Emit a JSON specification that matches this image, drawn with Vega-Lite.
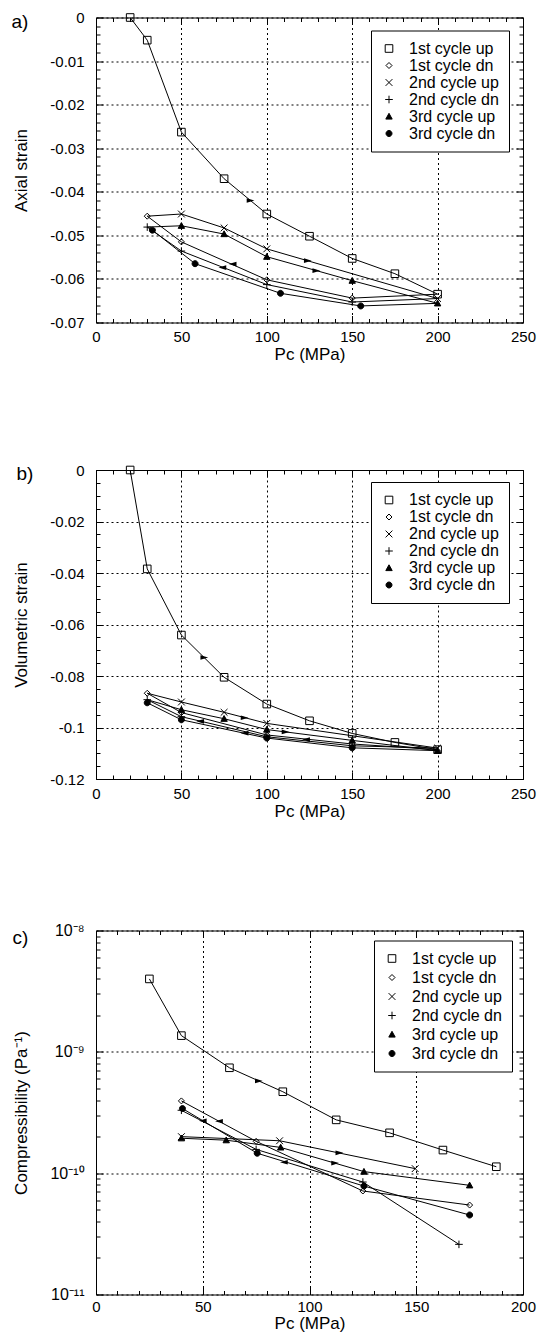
{
  "$schema": "https://vega.github.io/schema/vega-lite/v6.json",
  "padding": {"left": 10, "top": 9.5, "right": 0, "bottom": 0},
  "background": "white",
  "config": {
    "font": "Liberation Sans",
    "view": {"stroke": "black", "strokeWidth": 1},
    "axis": {"labelFont": "Liberation Sans", "titleFont": "Liberation Sans", "labelColor": "black", "titleColor": "black"},
    "legend": {"labelFont": "Liberation Sans", "labelColor": "black", "strokeColor": "black", "fillColor": "white", "padding": 10, "labelFontSize": 16, "labelOffset": 12, "symbolSize": 64, "symbolStrokeColor": "black", "symbolStrokeWidth": 1, "symbolOpacity": 1, "labelLimit": 300, "direction": "vertical"}
  },
  "resolve": {"scale": {"shape": "independent", "fill": "independent"}, "legend": {"shape": "independent", "fill": "independent"}},
  "datasets": {
    "a": [
      {"i": 1, "p": 20, "v": 0, "s": "1st cycle up"},
      {"i": 2, "p": 30, "v": -0.0052, "s": "1st cycle up"},
      {"i": 3, "p": 50, "v": -0.0263, "s": "1st cycle up"},
      {"i": 4, "p": 75, "v": -0.037, "s": "1st cycle up"},
      {"i": 5, "p": 100, "v": -0.0451, "s": "1st cycle up"},
      {"i": 6, "p": 125, "v": -0.0502, "s": "1st cycle up"},
      {"i": 7, "p": 150, "v": -0.0553, "s": "1st cycle up"},
      {"i": 8, "p": 175, "v": -0.0588, "s": "1st cycle up"},
      {"i": 9, "p": 200, "v": -0.0635, "s": "1st cycle up"},
      {"i": 10, "p": 150, "v": -0.0644, "s": "1st cycle dn"},
      {"i": 11, "p": 100, "v": -0.0602, "s": "1st cycle dn"},
      {"i": 12, "p": 50, "v": -0.0515, "s": "1st cycle dn"},
      {"i": 13, "p": 30, "v": -0.0456, "s": "1st cycle dn"},
      {"i": 14, "p": 50, "v": -0.0451, "s": "2nd cycle up"},
      {"i": 15, "p": 75, "v": -0.0483, "s": "2nd cycle up"},
      {"i": 16, "p": 100, "v": -0.0531, "s": "2nd cycle up"},
      {"i": 17, "p": 200, "v": -0.0645, "s": "2nd cycle up"},
      {"i": 18, "p": 150, "v": -0.0653, "s": "2nd cycle dn"},
      {"i": 19, "p": 100, "v": -0.0613, "s": "2nd cycle dn"},
      {"i": 20, "p": 50, "v": -0.0536, "s": "2nd cycle dn"},
      {"i": 21, "p": 30, "v": -0.0481, "s": "2nd cycle dn"},
      {"i": 22, "p": 50, "v": -0.0478, "s": "3rd cycle up"},
      {"i": 23, "p": 75, "v": -0.0497, "s": "3rd cycle up"},
      {"i": 24, "p": 100, "v": -0.0549, "s": "3rd cycle up"},
      {"i": 25, "p": 150, "v": -0.0604, "s": "3rd cycle up"},
      {"i": 26, "p": 200, "v": -0.0656, "s": "3rd cycle up"},
      {"i": 27, "p": 155, "v": -0.0662, "s": "3rd cycle dn"},
      {"i": 28, "p": 108, "v": -0.0633, "s": "3rd cycle dn"},
      {"i": 29, "p": 58, "v": -0.0565, "s": "3rd cycle dn"},
      {"i": 30, "p": 33, "v": -0.0488, "s": "3rd cycle dn"}
    ],
    "a_arr": [
      {"p": 90.5, "v": -0.042, "d": "up"},
      {"p": 124, "v": -0.0558, "d": "up"},
      {"p": 129, "v": -0.0581, "d": "up"},
      {"p": 80, "v": -0.0566, "d": "dn"},
      {"p": 74, "v": -0.0574, "d": "dn"}
    ],
    "b": [
      {"i": 1, "p": 20, "v": 0, "s": "1st cycle up"},
      {"i": 2, "p": 30, "v": -0.0384, "s": "1st cycle up"},
      {"i": 3, "p": 50, "v": -0.0641, "s": "1st cycle up"},
      {"i": 4, "p": 75, "v": -0.0805, "s": "1st cycle up"},
      {"i": 5, "p": 100, "v": -0.0909, "s": "1st cycle up"},
      {"i": 6, "p": 125, "v": -0.0974, "s": "1st cycle up"},
      {"i": 7, "p": 150, "v": -0.1023, "s": "1st cycle up"},
      {"i": 8, "p": 175, "v": -0.1058, "s": "1st cycle up"},
      {"i": 9, "p": 200, "v": -0.1086, "s": "1st cycle up"},
      {"i": 10, "p": 150, "v": -0.1064, "s": "1st cycle dn"},
      {"i": 11, "p": 100, "v": -0.1029, "s": "1st cycle dn"},
      {"i": 12, "p": 50, "v": -0.0942, "s": "1st cycle dn"},
      {"i": 13, "p": 30, "v": -0.0867, "s": "1st cycle dn"},
      {"i": 14, "p": 50, "v": -0.0901, "s": "2nd cycle up"},
      {"i": 15, "p": 75, "v": -0.0941, "s": "2nd cycle up"},
      {"i": 16, "p": 100, "v": -0.0984, "s": "2nd cycle up"},
      {"i": 17, "p": 200, "v": -0.108, "s": "2nd cycle up"},
      {"i": 18, "p": 150, "v": -0.1071, "s": "2nd cycle dn"},
      {"i": 19, "p": 100, "v": -0.1036, "s": "2nd cycle dn"},
      {"i": 20, "p": 50, "v": -0.0958, "s": "2nd cycle dn"},
      {"i": 21, "p": 30, "v": -0.0892, "s": "2nd cycle dn"},
      {"i": 22, "p": 50, "v": -0.0931, "s": "3rd cycle up"},
      {"i": 23, "p": 75, "v": -0.0966, "s": "3rd cycle up"},
      {"i": 24, "p": 100, "v": -0.1008, "s": "3rd cycle up"},
      {"i": 25, "p": 150, "v": -0.105, "s": "3rd cycle up"},
      {"i": 26, "p": 200, "v": -0.109, "s": "3rd cycle up"},
      {"i": 27, "p": 150, "v": -0.1079, "s": "3rd cycle dn"},
      {"i": 28, "p": 100, "v": -0.1041, "s": "3rd cycle dn"},
      {"i": 29, "p": 50, "v": -0.097, "s": "3rd cycle dn"},
      {"i": 30, "p": 30, "v": -0.0904, "s": "3rd cycle dn"}
    ],
    "b_arr": [
      {"p": 63.4, "v": -0.0728, "d": "up"},
      {"p": 87, "v": -0.0962, "d": "up"},
      {"p": 111, "v": -0.1017, "d": "up"},
      {"p": 61, "v": -0.0976, "d": "dn"},
      {"p": 87, "v": -0.1022, "d": "dn"},
      {"p": 123, "v": -0.1047, "d": "dn"}
    ],
    "c": [
      {"p": 25, "v": 3.99e-9, "s": "1st cycle up"},
      {"p": 40, "v": 1.36e-9, "s": "1st cycle up"},
      {"p": 62.5, "v": 7.39e-10, "s": "1st cycle up"},
      {"p": 87.5, "v": 4.69e-10, "s": "1st cycle up"},
      {"p": 112.5, "v": 2.75e-10, "s": "1st cycle up"},
      {"p": 137.5, "v": 2.15e-10, "s": "1st cycle up"},
      {"p": 162.5, "v": 1.55e-10, "s": "1st cycle up"},
      {"p": 187.5, "v": 1.13e-10, "s": "1st cycle up"},
      {"p": 175, "v": 5.46e-11, "s": "1st cycle dn"},
      {"p": 125, "v": 7.13e-11, "s": "1st cycle dn"},
      {"p": 75, "v": 1.83e-10, "s": "1st cycle dn"},
      {"p": 40, "v": 3.94e-10, "s": "1st cycle dn"},
      {"p": 40, "v": 2.0e-10, "s": "2nd cycle up"},
      {"p": 86, "v": 1.85e-10, "s": "2nd cycle up"},
      {"p": 149.5, "v": 1.09e-10, "s": "2nd cycle up"},
      {"p": 170, "v": 2.59e-11, "s": "2nd cycle dn"},
      {"p": 125, "v": 8.45e-11, "s": "2nd cycle dn"},
      {"p": 75, "v": 1.57e-10, "s": "2nd cycle dn"},
      {"p": 40, "v": 3.3e-10, "s": "2nd cycle dn"},
      {"p": 40, "v": 1.94e-10, "s": "3rd cycle up"},
      {"p": 61, "v": 1.87e-10, "s": "3rd cycle up"},
      {"p": 86.5, "v": 1.63e-10, "s": "3rd cycle up"},
      {"p": 125.5, "v": 1.03e-10, "s": "3rd cycle up"},
      {"p": 175, "v": 7.94e-11, "s": "3rd cycle up"},
      {"p": 175, "v": 4.52e-11, "s": "3rd cycle dn"},
      {"p": 125.5, "v": 7.83e-11, "s": "3rd cycle dn"},
      {"p": 75.5, "v": 1.46e-10, "s": "3rd cycle dn"},
      {"p": 40.5, "v": 3.41e-10, "s": "3rd cycle dn"}
    ],
    "c_arr": [
      {"p": 76.3, "v": 5.76e-10, "d": "up"},
      {"p": 114, "v": 1.47e-10, "d": "up"},
      {"p": 112, "v": 1.21e-10, "d": "up"},
      {"p": 57.6, "v": 2.68e-10, "d": "dn"},
      {"p": 50, "v": 2.7e-10, "d": "dn"},
      {"p": 88, "v": 1.23e-10, "d": "dn"}
    ]
  },
  "spacing": 98.5,
  "vconcat": [
    {
      "width": 427, "height": 305,
      "resolve": {"axis": {"x": "independent", "y": "independent"}},
      "layer": [
        {
          "data": {"name": "a"},
          "mark": {"type": "line", "color": "black", "strokeWidth": 1},
          "encoding": {
            "x": {"field": "p", "type": "quantitative", "scale": {"domain": [0, 250], "nice": false, "zero": false},
              "axis": {"orient": "bottom", "values": [0, 50, 100, 150, 200, 250], "grid": true, "gridColor": "black", "gridDash": [2, 3], "gridOpacity": 1, "gridWidth": 1, "ticks": false, "domain": false, "labelFontSize": 15, "labelPadding": 7, "labelFlush": false, "labelOverlap": false, "title": "Pc (MPa)", "titleFontSize": 17, "titleFontWeight": "normal", "titlePadding": 2}},
            "y": {"field": "v", "type": "quantitative", "scale": {"domain": [-0.07, 0], "nice": false, "zero": false},
              "axis": {"orient": "left", "values": [0, -0.01, -0.02, -0.03, -0.04, -0.05, -0.06, -0.07], "grid": true, "gridColor": "black", "gridDash": [2, 3], "gridOpacity": 1, "gridWidth": 1, "ticks": false, "domain": false, "labelFontSize": 15, "labelPadding": 12, "labelFlush": false, "labelOverlap": false, "labelExpr": "datum.value == 0 ? '0' : '-' + format(-datum.value, '.2~f')", "title": "Axial strain", "titleX": -75, "titleBaseline": "middle", "titleFontSize": 17, "titleFontWeight": "normal"}},
            "order": {"field": "i", "type": "quantitative"}
          }
        },
        {
          "data": {"name": "a"},
          "mark": {"type": "point", "stroke": "black", "strokeWidth": 1, "opacity": 1, "size": 64},
          "encoding": {
            "x": {"field": "p", "type": "quantitative", "scale": {"domain": [0, 250], "nice": false, "zero": false},
              "axis": {"orient": "bottom", "values": [0, 50, 100, 150, 200, 250], "labels": false, "ticks": true, "tickSize": -7, "tickColor": "black", "tickWidth": 1, "domain": false, "grid": false, "title": null}},
            "y": {"field": "v", "type": "quantitative", "scale": {"domain": [-0.07, 0], "nice": false, "zero": false},
              "axis": {"orient": "left", "values": [0, -0.01, -0.02, -0.03, -0.04, -0.05, -0.06, -0.07], "labels": false, "ticks": true, "tickSize": -7, "tickColor": "black", "tickWidth": 1, "domain": false, "grid": false, "title": null}},
            "shape": {"field": "s", "type": "nominal",
              "scale": {"domain": ["1st cycle up", "1st cycle dn", "2nd cycle up", "2nd cycle dn", "3rd cycle up", "3rd cycle dn"],
                "range": ["M-0.95,-0.95L0.95,-0.95L0.95,0.95L-0.95,0.95Z", "M0,-0.75L0.75,0L0,0.75L-0.75,0Z", "M-0.85,-0.85L0.85,0.85M-0.85,0.85L0.85,-0.85", "M-0.95,0L0.95,0M0,-0.95L0,0.95", "M0,-0.8L0.8,0.65L-0.8,0.65Z", "M-0.75,0A0.75,0.75,0,1,1,0.75,0A0.75,0.75,0,1,1,-0.75,0Z"]},
              "legend": {"title": null, "orient": "none", "legendX": 275, "legendY": 13, "rowPadding": 1, "encode": {"symbols": {"update": {"stroke": {"value": "black"}, "strokeWidth": {"value": 1}, "opacity": {"value": 1}}}}}},
            "fill": {"field": "s", "type": "nominal",
              "scale": {"domain": ["1st cycle up", "1st cycle dn", "2nd cycle up", "2nd cycle dn", "3rd cycle up", "3rd cycle dn"],
                "range": ["transparent", "transparent", "transparent", "transparent", "black", "black"]},
              "legend": {"title": null, "orient": "none", "legendX": 275, "legendY": 13, "rowPadding": 1, "encode": {"symbols": {"update": {"stroke": {"value": "black"}, "strokeWidth": {"value": 1}, "opacity": {"value": 1}}}}}}
          }
        },
        {
          "data": {"name": "a_arr"},
          "transform": [{"filter": "datum.d == 'up'"}],
          "mark": {"type": "point", "shape": "M1,0L-1,-0.6L-1,0.6Z", "filled": true, "color": "black", "size": 60, "opacity": 1},
          "encoding": {
            "x": {"field": "p", "type": "quantitative", "scale": {"domain": [0, 250], "nice": false, "zero": false},
              "axis": {"orient": "bottom", "values": [10, 20, 30, 40, 60, 70, 80, 90, 110, 120, 130, 140, 160, 170, 180, 190, 210, 220, 230, 240], "labels": false, "ticks": true, "tickSize": -4, "tickColor": "black", "tickWidth": 1, "domain": false, "grid": false, "title": null}},
            "y": {"field": "v", "type": "quantitative", "scale": {"domain": [-0.07, 0], "nice": false, "zero": false},
              "axis": {"orient": "left", "values": [-0.002, -0.004, -0.006, -0.008, -0.012, -0.014, -0.016, -0.018, -0.022, -0.024, -0.026, -0.028, -0.032, -0.034, -0.036, -0.038, -0.042, -0.044, -0.046, -0.048, -0.052, -0.054, -0.056, -0.058, -0.062, -0.064, -0.066, -0.068], "labels": false, "ticks": true, "tickSize": -4, "tickColor": "black", "tickWidth": 1, "domain": false, "grid": false, "title": null}}
          }
        },
        {
          "data": {"name": "a_arr"},
          "transform": [{"filter": "datum.d == 'dn'"}],
          "mark": {"type": "point", "shape": "M-1,0L1,-0.6L1,0.6Z", "filled": true, "color": "black", "size": 60, "opacity": 1},
          "encoding": {
            "x": {"field": "p", "type": "quantitative", "scale": {"domain": [0, 250], "nice": false, "zero": false},
              "axis": {"orient": "top", "values": [0, 50, 100, 150, 200, 250], "labels": false, "ticks": true, "tickSize": -7, "tickColor": "black", "tickWidth": 1, "domain": false, "grid": false, "title": "a)", "titleX": -85, "titleY": 4, "titleAngle": 0, "titleAlign": "left", "titleBaseline": "middle", "titleFontSize": 19, "titleFontWeight": "normal"}},
            "y": {"field": "v", "type": "quantitative", "scale": {"domain": [-0.07, 0], "nice": false, "zero": false},
              "axis": {"orient": "right", "values": [0, -0.01, -0.02, -0.03, -0.04, -0.05, -0.06, -0.07], "labels": false, "ticks": true, "tickSize": -7, "tickColor": "black", "tickWidth": 1, "domain": false, "grid": false, "title": null}}
          }
        },
        {
          "data": {"name": "a"},
          "mark": {"type": "point", "opacity": 0},
          "encoding": {
            "x": {"field": "p", "type": "quantitative", "scale": {"domain": [0, 250], "nice": false, "zero": false},
              "axis": {"orient": "top", "values": [10, 20, 30, 40, 60, 70, 80, 90, 110, 120, 130, 140, 160, 170, 180, 190, 210, 220, 230, 240], "labels": false, "ticks": true, "tickSize": -4, "tickColor": "black", "tickWidth": 1, "domain": false, "grid": false, "title": null}},
            "y": {"field": "v", "type": "quantitative", "scale": {"domain": [-0.07, 0], "nice": false, "zero": false},
              "axis": {"orient": "right", "values": [-0.002, -0.004, -0.006, -0.008, -0.012, -0.014, -0.016, -0.018, -0.022, -0.024, -0.026, -0.028, -0.032, -0.034, -0.036, -0.038, -0.042, -0.044, -0.046, -0.048, -0.052, -0.054, -0.056, -0.058, -0.062, -0.064, -0.066, -0.068], "labels": false, "ticks": true, "tickSize": -4, "tickColor": "black", "tickWidth": 1, "domain": false, "grid": false, "title": null}}
          }
        }
      ]
    },
    {
      "spacing": 101.5,
      "resolve": {"scale": {"shape": "independent", "fill": "independent"}, "legend": {"shape": "independent", "fill": "independent"}},
      "vconcat": [
        {
          "width": 427, "height": 309,
          "resolve": {"axis": {"x": "independent", "y": "independent"}},
          "layer": [
            {
              "data": {"name": "b"},
              "mark": {"type": "line", "color": "black", "strokeWidth": 1},
              "encoding": {
                "x": {"field": "p", "type": "quantitative", "scale": {"domain": [0, 250], "nice": false, "zero": false},
                  "axis": {"orient": "bottom", "values": [0, 50, 100, 150, 200, 250], "grid": true, "gridColor": "black", "gridDash": [2, 3], "gridOpacity": 1, "gridWidth": 1, "ticks": false, "domain": false, "labelFontSize": 15, "labelPadding": 7, "labelFlush": false, "labelOverlap": false, "title": "Pc (MPa)", "titleFontSize": 17, "titleFontWeight": "normal", "titlePadding": 2}},
                "y": {"field": "v", "type": "quantitative", "scale": {"domain": [-0.12, 0], "nice": false, "zero": false},
                  "axis": {"orient": "left", "values": [0, -0.02, -0.04, -0.06, -0.08, -0.1, -0.12], "grid": true, "gridColor": "black", "gridDash": [2, 3], "gridOpacity": 1, "gridWidth": 1, "ticks": false, "domain": false, "labelFontSize": 15, "labelPadding": 12, "labelFlush": false, "labelOverlap": false, "labelExpr": "datum.value == 0 ? '0' : '-' + format(-datum.value, '.2~f')", "title": "Volumetric strain", "titleX": -75, "titleBaseline": "middle", "titleFontSize": 17, "titleFontWeight": "normal"}},
                "order": {"field": "i", "type": "quantitative"}
              }
            },
            {
              "data": {"name": "b"},
              "mark": {"type": "point", "stroke": "black", "strokeWidth": 1, "opacity": 1, "size": 64},
              "encoding": {
                "x": {"field": "p", "type": "quantitative", "scale": {"domain": [0, 250], "nice": false, "zero": false},
                  "axis": {"orient": "bottom", "values": [0, 50, 100, 150, 200, 250], "labels": false, "ticks": true, "tickSize": -7, "tickColor": "black", "tickWidth": 1, "domain": false, "grid": false, "title": null}},
                "y": {"field": "v", "type": "quantitative", "scale": {"domain": [-0.12, 0], "nice": false, "zero": false},
                  "axis": {"orient": "left", "values": [0, -0.02, -0.04, -0.06, -0.08, -0.1, -0.12], "labels": false, "ticks": true, "tickSize": -7, "tickColor": "black", "tickWidth": 1, "domain": false, "grid": false, "title": null}},
                "shape": {"field": "s", "type": "nominal",
                  "scale": {"domain": ["1st cycle up", "1st cycle dn", "2nd cycle up", "2nd cycle dn", "3rd cycle up", "3rd cycle dn"],
                    "range": ["M-0.95,-0.95L0.95,-0.95L0.95,0.95L-0.95,0.95Z", "M0,-0.75L0.75,0L0,0.75L-0.75,0Z", "M-0.85,-0.85L0.85,0.85M-0.85,0.85L0.85,-0.85", "M-0.95,0L0.95,0M0,-0.95L0,0.95", "M0,-0.8L0.8,0.65L-0.8,0.65Z", "M-0.75,0A0.75,0.75,0,1,1,0.75,0A0.75,0.75,0,1,1,-0.75,0Z"]},
                  "legend": {"title": null, "orient": "none", "legendX": 275, "legendY": 12, "rowPadding": 1, "encode": {"symbols": {"update": {"stroke": {"value": "black"}, "strokeWidth": {"value": 1}, "opacity": {"value": 1}}}}}},
                "fill": {"field": "s", "type": "nominal",
                  "scale": {"domain": ["1st cycle up", "1st cycle dn", "2nd cycle up", "2nd cycle dn", "3rd cycle up", "3rd cycle dn"],
                    "range": ["transparent", "transparent", "transparent", "transparent", "black", "black"]},
                  "legend": {"title": null, "orient": "none", "legendX": 275, "legendY": 12, "rowPadding": 1, "encode": {"symbols": {"update": {"stroke": {"value": "black"}, "strokeWidth": {"value": 1}, "opacity": {"value": 1}}}}}}
              }
            },
            {
              "data": {"name": "b_arr"},
              "transform": [{"filter": "datum.d == 'up'"}],
              "mark": {"type": "point", "shape": "M1,0L-1,-0.6L-1,0.6Z", "filled": true, "color": "black", "size": 60, "opacity": 1},
              "encoding": {
                "x": {"field": "p", "type": "quantitative", "scale": {"domain": [0, 250], "nice": false, "zero": false},
                  "axis": {"orient": "bottom", "values": [10, 20, 30, 40, 60, 70, 80, 90, 110, 120, 130, 140, 160, 170, 180, 190, 210, 220, 230, 240], "labels": false, "ticks": true, "tickSize": -4, "tickColor": "black", "tickWidth": 1, "domain": false, "grid": false, "title": null}},
                "y": {"field": "v", "type": "quantitative", "scale": {"domain": [-0.12, 0], "nice": false, "zero": false},
                  "axis": {"orient": "left", "values": [-0.005, -0.01, -0.015, -0.025, -0.03, -0.035, -0.045, -0.05, -0.055, -0.065, -0.07, -0.075, -0.085, -0.09, -0.095, -0.105, -0.11, -0.115], "labels": false, "ticks": true, "tickSize": -4, "tickColor": "black", "tickWidth": 1, "domain": false, "grid": false, "title": null}}
              }
            },
            {
              "data": {"name": "b_arr"},
              "transform": [{"filter": "datum.d == 'dn'"}],
              "mark": {"type": "point", "shape": "M-1,0L1,-0.6L1,0.6Z", "filled": true, "color": "black", "size": 60, "opacity": 1},
              "encoding": {
                "x": {"field": "p", "type": "quantitative", "scale": {"domain": [0, 250], "nice": false, "zero": false},
                  "axis": {"orient": "top", "values": [0, 50, 100, 150, 200, 250], "labels": false, "ticks": true, "tickSize": -7, "tickColor": "black", "tickWidth": 1, "domain": false, "grid": false, "title": "b)", "titleX": -80, "titleY": 3, "titleAngle": 0, "titleAlign": "left", "titleBaseline": "middle", "titleFontSize": 19, "titleFontWeight": "normal"}},
                "y": {"field": "v", "type": "quantitative", "scale": {"domain": [-0.12, 0], "nice": false, "zero": false},
                  "axis": {"orient": "right", "values": [0, -0.02, -0.04, -0.06, -0.08, -0.1, -0.12], "labels": false, "ticks": true, "tickSize": -7, "tickColor": "black", "tickWidth": 1, "domain": false, "grid": false, "title": null}}
              }
            },
            {
              "data": {"name": "b"},
              "mark": {"type": "point", "opacity": 0},
              "encoding": {
                "x": {"field": "p", "type": "quantitative", "scale": {"domain": [0, 250], "nice": false, "zero": false},
                  "axis": {"orient": "top", "values": [10, 20, 30, 40, 60, 70, 80, 90, 110, 120, 130, 140, 160, 170, 180, 190, 210, 220, 230, 240], "labels": false, "ticks": true, "tickSize": -4, "tickColor": "black", "tickWidth": 1, "domain": false, "grid": false, "title": null}},
                "y": {"field": "v", "type": "quantitative", "scale": {"domain": [-0.12, 0], "nice": false, "zero": false},
                  "axis": {"orient": "right", "values": [-0.005, -0.01, -0.015, -0.025, -0.03, -0.035, -0.045, -0.05, -0.055, -0.065, -0.07, -0.075, -0.085, -0.09, -0.095, -0.105, -0.11, -0.115], "labels": false, "ticks": true, "tickSize": -4, "tickColor": "black", "tickWidth": 1, "domain": false, "grid": false, "title": null}}
              }
            }
          ]
        },
        {
          "width": 427, "height": 364,
          "resolve": {"axis": {"x": "independent", "y": "independent"}},
          "layer": [
            {
              "data": {"name": "c"},
              "mark": {"type": "line", "color": "black", "strokeWidth": 1},
              "encoding": {
                "x": {"field": "p", "type": "quantitative", "scale": {"domain": [0, 200], "nice": false, "zero": false},
                  "axis": {"orient": "bottom", "values": [0, 50, 100, 150, 200], "grid": true, "gridColor": "black", "gridDash": [2, 3], "gridOpacity": 1, "gridWidth": 1, "ticks": false, "domain": false, "labelFontSize": 15, "labelPadding": 5, "labelFlush": false, "labelOverlap": false, "title": "Pc (MPa)", "titleFontSize": 17, "titleFontWeight": "normal", "titlePadding": 1}},
                "y": {"field": "v", "type": "quantitative", "scale": {"type": "log", "domain": [1e-11, 1e-8], "nice": false},
                  "axis": {"orient": "left", "values": [1e-11, 1e-10, 1e-9, 1e-8], "grid": true, "gridColor": "black", "gridDash": [2, 3], "gridOpacity": 1, "gridWidth": 1, "ticks": false, "domain": false, "labelFontSize": 16, "labelPadding": 12, "labelFlush": false, "labelOverlap": false, "labelExpr": "'10' + (datum.value > 5e-9 ? '⁻⁸' : datum.value > 5e-10 ? '⁻⁹' : datum.value > 5e-11 ? '⁻¹⁰' : '⁻¹¹')", "title": "Compressibility (Pa⁻¹)", "titleX": -75, "titleBaseline": "middle", "titleFontSize": 17, "titleFontWeight": "normal"}},
                "detail": {"field": "s", "type": "nominal"}
              }
            },
            {
              "data": {"name": "c"},
              "mark": {"type": "point", "stroke": "black", "strokeWidth": 1, "opacity": 1, "size": 64},
              "encoding": {
                "x": {"field": "p", "type": "quantitative", "scale": {"domain": [0, 200], "nice": false, "zero": false},
                  "axis": {"orient": "bottom", "values": [0, 50, 100, 150, 200], "labels": false, "ticks": true, "tickSize": -7, "tickColor": "black", "tickWidth": 1, "domain": false, "grid": false, "title": null}},
                "y": {"field": "v", "type": "quantitative", "scale": {"type": "log", "domain": [1e-11, 1e-8], "nice": false},
                  "axis": {"orient": "left", "values": [1e-11, 1e-10, 1e-9, 1e-8], "labels": false, "ticks": true, "tickSize": -7, "tickColor": "black", "tickWidth": 1, "domain": false, "grid": false, "title": null}},
                "shape": {"field": "s", "type": "nominal",
                  "scale": {"domain": ["1st cycle up", "1st cycle dn", "2nd cycle up", "2nd cycle dn", "3rd cycle up", "3rd cycle dn"],
                    "range": ["M-0.95,-0.95L0.95,-0.95L0.95,0.95L-0.95,0.95Z", "M0,-0.75L0.75,0L0,0.75L-0.75,0Z", "M-0.85,-0.85L0.85,0.85M-0.85,0.85L0.85,-0.85", "M-0.95,0L0.95,0M0,-0.95L0,0.95", "M0,-0.8L0.8,0.65L-0.8,0.65Z", "M-0.75,0A0.75,0.75,0,1,1,0.75,0A0.75,0.75,0,1,1,-0.75,0Z"]},
                  "legend": {"title": null, "orient": "none", "legendX": 278, "legendY": 10, "rowPadding": 3, "encode": {"symbols": {"update": {"stroke": {"value": "black"}, "strokeWidth": {"value": 1}, "opacity": {"value": 1}}}}}},
                "fill": {"field": "s", "type": "nominal",
                  "scale": {"domain": ["1st cycle up", "1st cycle dn", "2nd cycle up", "2nd cycle dn", "3rd cycle up", "3rd cycle dn"],
                    "range": ["transparent", "transparent", "transparent", "transparent", "black", "black"]},
                  "legend": {"title": null, "orient": "none", "legendX": 278, "legendY": 10, "rowPadding": 3, "encode": {"symbols": {"update": {"stroke": {"value": "black"}, "strokeWidth": {"value": 1}, "opacity": {"value": 1}}}}}}
              }
            },
            {
              "data": {"name": "c_arr"},
              "transform": [{"filter": "datum.d == 'up'"}],
              "mark": {"type": "point", "shape": "M1,0L-1,-0.6L-1,0.6Z", "filled": true, "color": "black", "size": 60, "opacity": 1},
              "encoding": {
                "x": {"field": "p", "type": "quantitative", "scale": {"domain": [0, 200], "nice": false, "zero": false},
                  "axis": {"orient": "bottom", "values": [10, 20, 30, 40, 60, 70, 80, 90, 110, 120, 130, 140, 160, 170, 180, 190], "labels": false, "ticks": true, "tickSize": -4, "tickColor": "black", "tickWidth": 1, "domain": false, "grid": false, "title": null}},
                "y": {"field": "v", "type": "quantitative", "scale": {"type": "log", "domain": [1e-11, 1e-8], "nice": false},
                  "axis": {"orient": "left", "values": [2e-11, 3e-11, 4e-11, 5e-11, 6e-11, 7e-11, 8e-11, 9e-11, 2e-10, 3e-10, 4e-10, 5e-10, 6e-10, 7e-10, 8e-10, 9e-10, 2e-9, 3e-9, 4e-9, 5e-9, 6e-9, 7e-9, 8e-9, 9e-9], "labels": false, "ticks": true, "tickSize": -4, "tickColor": "black", "tickWidth": 1, "domain": false, "grid": false, "title": null}}
              }
            },
            {
              "data": {"name": "c_arr"},
              "transform": [{"filter": "datum.d == 'dn'"}],
              "mark": {"type": "point", "shape": "M-1,0L1,-0.6L1,0.6Z", "filled": true, "color": "black", "size": 60, "opacity": 1},
              "encoding": {
                "x": {"field": "p", "type": "quantitative", "scale": {"domain": [0, 200], "nice": false, "zero": false},
                  "axis": {"orient": "top", "values": [0, 50, 100, 150, 200], "labels": false, "ticks": true, "tickSize": -7, "tickColor": "black", "tickWidth": 1, "domain": false, "grid": false, "title": "c)", "titleX": -84, "titleY": 7, "titleAngle": 0, "titleAlign": "left", "titleBaseline": "middle", "titleFontSize": 19, "titleFontWeight": "normal"}},
                "y": {"field": "v", "type": "quantitative", "scale": {"type": "log", "domain": [1e-11, 1e-8], "nice": false},
                  "axis": {"orient": "right", "values": [1e-11, 1e-10, 1e-9, 1e-8], "labels": false, "ticks": true, "tickSize": -7, "tickColor": "black", "tickWidth": 1, "domain": false, "grid": false, "title": null}}
              }
            },
            {
              "data": {"name": "c"},
              "mark": {"type": "point", "opacity": 0},
              "encoding": {
                "x": {"field": "p", "type": "quantitative", "scale": {"domain": [0, 200], "nice": false, "zero": false},
                  "axis": {"orient": "top", "values": [10, 20, 30, 40, 60, 70, 80, 90, 110, 120, 130, 140, 160, 170, 180, 190], "labels": false, "ticks": true, "tickSize": -4, "tickColor": "black", "tickWidth": 1, "domain": false, "grid": false, "title": null}},
                "y": {"field": "v", "type": "quantitative", "scale": {"type": "log", "domain": [1e-11, 1e-8], "nice": false},
                  "axis": {"orient": "right", "values": [2e-11, 3e-11, 4e-11, 5e-11, 6e-11, 7e-11, 8e-11, 9e-11, 2e-10, 3e-10, 4e-10, 5e-10, 6e-10, 7e-10, 8e-10, 9e-10, 2e-9, 3e-9, 4e-9, 5e-9, 6e-9, 7e-9, 8e-9, 9e-9], "labels": false, "ticks": true, "tickSize": -4, "tickColor": "black", "tickWidth": 1, "domain": false, "grid": false, "title": null}}
              }
            }
          ]
        }
      ]
    }
  ]
}
